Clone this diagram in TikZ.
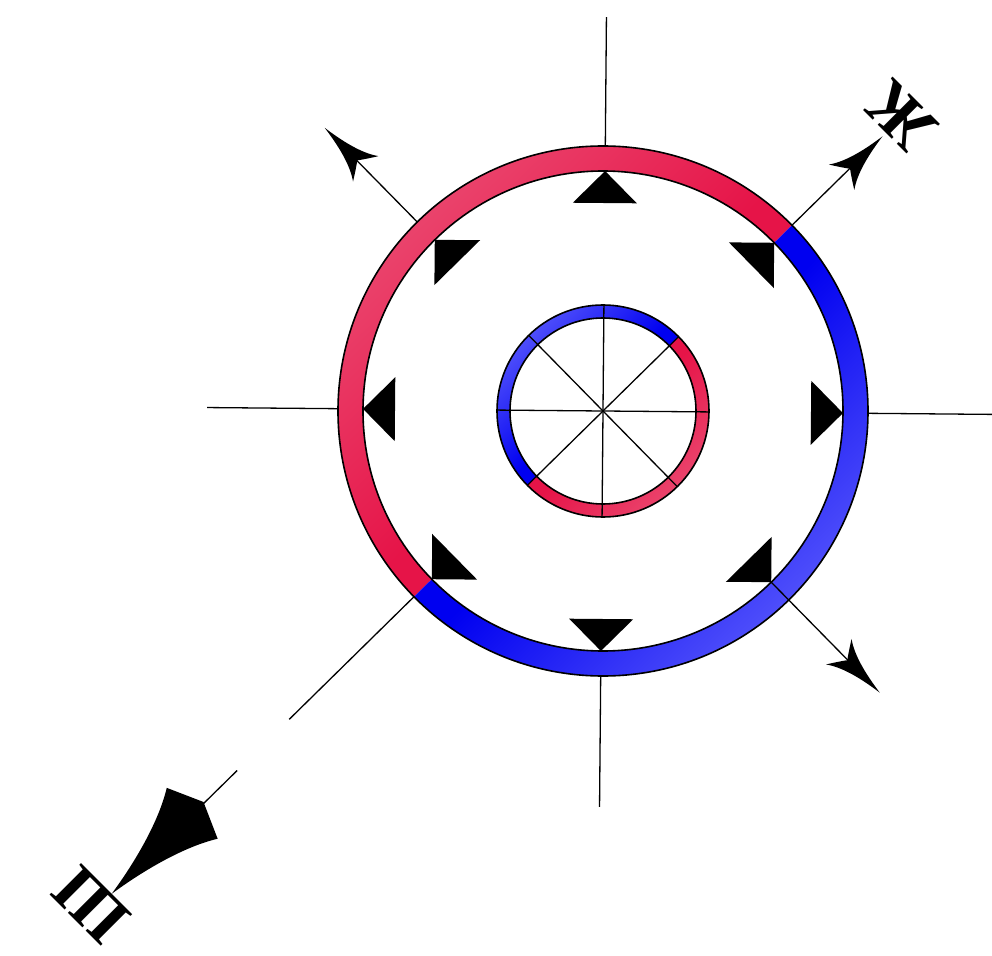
\documentclass[tikz,border=0pt]{standalone}
\usepackage{fontspec}
\newfontfamily\cyrserif{Liberation Serif}
\definecolor{rdark}{RGB}{230,20,72}
\definecolor{rlight}{RGB}{236,86,122}
\definecolor{bdark}{RGB}{0,0,240}
\definecolor{blight}{RGB}{110,110,255}
\newcommand\halfring[5]{%
  \begin{scope}[transform canvas={rotate=#1}]
    \clip (#2,0) arc[start angle=0,end angle=180,radius=#2] -- (-#3,0) arc[start angle=180,end angle=0,radius=#3] -- cycle;
    \fill[#4] (-#2-5,-5) rectangle (#2+5,#2+5);
    \shade[bottom color=#4,top color=#5] (-#2-5,0.15*#2) rectangle (#2+5,1.35*#2);
  \end{scope}}
\begin{document}
\begin{tikzpicture}[x=1pt,y=1pt,line join=round,
  ringline/.style={line width=1.6pt},
  spoke/.style={line width=1.3pt},
  barbtip/.pic={\fill (0,0) .. controls (-22,3) and (-44,8) .. (-58,18) .. controls (-53,10) and (-49,4) .. (-46,0) .. controls (-49,-4) and (-53,-10) .. (-58,-18) .. controls (-44,-8) and (-22,-3) .. (0,0) -- cycle;},
  kitetip/.pic={\fill (0,0) .. controls (-40,6) and (-85,18) .. (-114,36) -- (-130,0) -- (-114,-36) .. controls (-85,-18) and (-40,-6) .. (0,0) -- cycle;},
  lbl/.style={font=\cyrserif\bfseries\fontsize{68}{68}\selectfont, rotate=135, inner sep=0pt}]
\useasboundingbox (-603,-544) rectangle (389,411);
% shaded half rings
\halfring{44.5}{265}{240}{rdark}{rlight}
\halfring{224.5}{265}{240}{bdark}{blight}
\halfring{44.5}{106}{93}{bdark}{blight}
\halfring{224.5}{106}{93}{rdark}{rlight}
\draw[ringline] (0,0) circle[radius=265] (0,0) circle[radius=240];
\draw[ringline] (0,0) circle[radius=106] (0,0) circle[radius=93];
\begin{scope}[rotate=-0.5]
  \coordinate (c) at (0,0);
  % triangles
  \foreach \a in {0,45,...,315}
    \fill[rotate=\a] (240,0) -- (208,32) -- (208,-32) -- cycle;
  % inner spokes
  \foreach \a in {0,45,...,315}{
    \coordinate (r\a) at (\a:106);
    \draw[spoke] (c) -- (r\a);}
  % axis spokes
  \coordinate (Nin) at (90:265);  \coordinate (Nout) at (90:394);
  \coordinate (Sin) at (270:265); \coordinate (Sout) at (270:396);
  \coordinate (Win) at (180:265); \coordinate (Wout) at (180:396);
  \coordinate (Ein) at (0:265);   \coordinate (Eout) at (0:392);
  \draw[spoke] (Nin) -- (Nout);
  \draw[spoke] (Sin) -- (Sout);
  \draw[spoke] (Win) -- (Wout);
  \draw[spoke] (Ein) -- (Eout);
  % NW arrow
  \coordinate (NWin) at (135:265); \coordinate (NWend) at (135:352);
  \draw[spoke] (NWin) -- (NWend);
  \pic[rotate=135] at (135:397) {barbtip};
  % NE arrow
  \coordinate (NEin) at (45:265); \coordinate (NEend) at (45:347);
  \draw[spoke] (NEin) -- (NEend);
  \pic[rotate=45] at (45:392) {barbtip};
  % SE arrow
  \coordinate (SEin) at (315:240); \coordinate (SEend) at (315:350);
  \draw[spoke] (SEin) -- (SEend);
  \pic[rotate=315] at (315:395) {barbtip};
  % SW line and kite
  \coordinate (SWin) at (225:265); \coordinate (SWa) at (225:440);
  \coordinate (SWb) at (225:513); \coordinate (SWc) at (225:562);
  \draw[spoke] (SWin) -- (SWa);
  \draw[spoke] (SWb) -- (SWc);
  \pic[rotate=225] at (225:689) {kitetip};
  % labels
  \node[lbl] (zhe) at (45.2:419) {Ж};
  \node[lbl] (sha) at (224.5:711) {Ш};
\end{scope}
\end{tikzpicture}
\end{document}
